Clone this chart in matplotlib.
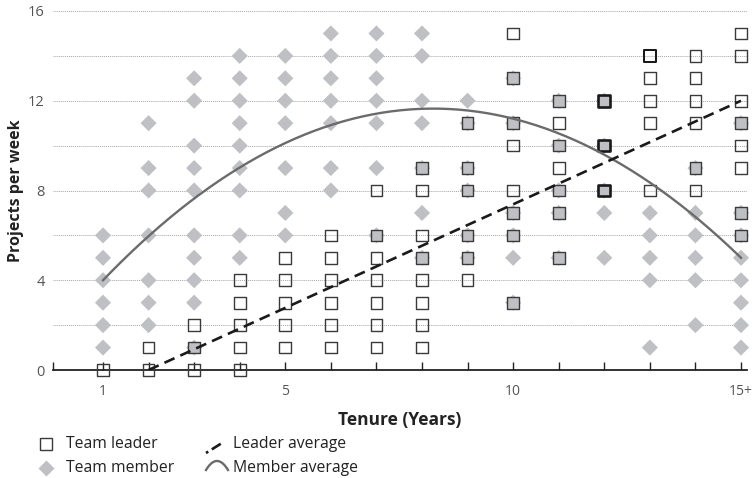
import matplotlib
matplotlib.use("Agg")
import matplotlib.pyplot as plt
from matplotlib.lines import Line2D
import numpy as np
from collections import Counter

plt.rcParams['font.family'] = ['Open Sans', 'DejaVu Sans']

# ---------------- data ----------------
# Team leaders: tenure (years) and projects per week (repeats = stacked leaders)
leader_tenure = ([1] + [2]*2 + [3]*3 + [4]*5 + [5]*5 + [6]*6 + [7]*7 + [8]*8 +
                 [9]*6 + [10]*8 + [11]*7 + [12]*9 + [13]*6 + [14]*6 + [15]*8)
leader_projects = ([0] +
                   [1, 0] +
                   [2, 1, 0] +
                   [4, 3, 2, 1, 0] +
                   [5, 4, 3, 2, 1] +
                   [6, 5, 4, 3, 2, 1] +
                   [8, 6, 5, 4, 3, 2, 1] +
                   [9, 8, 6, 5, 4, 3, 2, 1] +
                   [11, 9, 8, 6, 5, 4] +
                   [15, 13, 11, 10, 8, 7, 6, 3] +
                   [12, 11, 10, 9, 8, 7, 5] +
                   [12, 12, 12, 10, 10, 10, 8, 8, 8] +
                   [14, 14, 13, 12, 11, 8] +
                   [14, 13, 12, 11, 9, 8] +
                   [15, 14, 12, 11, 10, 9, 7, 6])

# Team members
member_tenure = ([1]*6 + [2]*7 + [3]*10 + [4]*9 + [5]*7 + [6]*7 + [7]*7 + [8]*7 +
                 [9]*6 + [10]*6 + [11]*5 + [12]*5 + [13]*5 + [14]*6 + [15]*8)
member_projects = ([6, 5, 4, 3, 2, 1] +
                   [11, 9, 8, 6, 4, 3, 2] +
                   [13, 12, 10, 9, 8, 6, 5, 4, 3, 1] +
                   [14, 13, 12, 11, 10, 9, 8, 6, 5] +
                   [14, 13, 12, 11, 9, 7, 6] +
                   [15, 14, 13, 12, 11, 9, 8] +
                   [15, 14, 13, 12, 11, 9, 6] +
                   [15, 14, 12, 11, 9, 7, 5] +
                   [12, 11, 9, 8, 6, 5] +
                   [13, 11, 7, 6, 5, 3] +
                   [12, 10, 8, 7, 5] +
                   [12, 10, 8, 7, 5] +
                   [7, 6, 5, 4, 1] +
                   [9, 7, 6, 5, 4, 2] +
                   [11, 7, 6, 5, 4, 3, 2, 1])

# Averages
leader_avg_tenure = [2, 15]
leader_avg_projects = [0, 12]
member_avg_tenure = [1, 8.25, 15]       # start, peak, end of the curve
member_avg_projects = [4, 11.65, 5]

x_tick_values = [1, 5, 10, 15]
x_tick_labels = ["1", "5", "10", "15+"]
y_tick_values = [0, 4, 8, 12, 16]
y_tick_labels = ["0", "4", "8", "12", "16"]

# ---------------- styling ----------------
W, H = 754, 478
DIAMOND = "#bfc0c4"
fig = plt.figure(figsize=(W/100, H/100), dpi=100)
ax = fig.add_axes([53/W, (H-370)/H, (747-53)/W, (370-11)/H])

ppu = (741-103)/14.0
ax.set_xlim(1 - (103-53)/ppu, 15 + (747-741)/ppu)
ax.set_ylim(0, 16)

# members (diamonds)
ax.scatter(member_tenure, member_projects, marker="D", s=8.2**2, c=DIAMOND,
           edgecolors="none", zorder=3, clip_on=False)

# leaders (squares); fill grey where a member sits underneath, heavier edge for repeats
member_set = set(zip(member_tenure, member_projects))
counts = Counter(zip(leader_tenure, leader_projects))
lx, ly, fc, ec, lw = [], [], [], [], []
for (t, p), n in counts.items():
    lx.append(t)
    ly.append(p)
    fc.append(DIAMOND if (t, p) in member_set else "none")
    ec.append("#3a3a3a" if n == 1 else "#1a1a1a")
    lw.append(1.0 + 0.45 * (n - 1))
ax.scatter(lx, ly, marker="s", s=8.4**2, facecolors=fc, edgecolors=ec,
           linewidths=lw, zorder=4, clip_on=False)

# averages
ax.plot(leader_avg_tenure, leader_avg_projects, color="#1a1a1a", lw=1.9,
        dashes=(4.2, 2.4), zorder=6, solid_capstyle="butt", dash_capstyle="butt")
coef = np.polyfit(member_avg_tenure, member_avg_projects, 2)
xs = np.linspace(member_avg_tenure[0], member_avg_tenure[-1], 200)
ax.plot(xs, np.polyval(coef, xs), color="#6b6b6b", lw=1.7, zorder=5)

# grid
for yv in range(2, 17, 2):
    ax.axhline(yv, color="#a5a5a5", lw=0.7, ls=(0, (1, 1)), zorder=1)

# spines
for s in ["left", "right", "top"]:
    ax.spines[s].set_visible(False)
ax.spines["bottom"].set_color("#222222")
ax.spines["bottom"].set_linewidth(1.3)
ax.spines["bottom"].set_zorder(2)

# x ticks: one mark per year, labels at some
xlim0 = ax.get_xlim()[0]
ticks = [xlim0] + list(range(1, 16))
labels = [""] * len(ticks)
for v, lab in zip(x_tick_values, x_tick_labels):
    labels[ticks.index(v)] = lab
ax.set_xticks(ticks)
ax.set_xticklabels(labels)
ax.tick_params(axis="x", direction="in", length=6, width=1.0, color="#222222",
               pad=10, labelsize=10, labelcolor="#555555")
ax.set_yticks(y_tick_values)
ax.set_yticklabels(y_tick_labels)
ax.tick_params(axis="y", length=0, pad=6, labelsize=10.5, labelcolor="#555555")

ax.set_xlabel("Tenure (Years)", fontsize=12.5, fontweight="bold", color="#222222",
              labelpad=9)
ax.set_ylabel("Projects per week", fontsize=11.5, fontweight="bold", color="#222222",
              labelpad=3)

# ---------------- legend (drawn by hand) ----------------
def fx(px):
    return px / W

def fy(py):
    return 1 - py / H

fig.add_artist(Line2D([fx(46)], [fy(444)], marker="s", markersize=8.4,
                      markerfacecolor="none", markeredgecolor="#3a3a3a",
                      markeredgewidth=1.0, transform=fig.transFigure))
fig.add_artist(Line2D([fx(46)], [fy(468)], marker="D", markersize=8.2,
                      markerfacecolor=DIAMOND, markeredgecolor="none",
                      transform=fig.transFigure))
fig.text(fx(66), fy(444), "Team leader", fontsize=11.3, color="#222222", va="center")
fig.text(fx(66), fy(468), "Team member", fontsize=11.3, color="#222222", va="center")

fig.add_artist(Line2D([fx(206), fx(222)], [fy(453), fy(443)], color="#1a1a1a",
                      lw=1.9, dashes=(1.0, 1.6, 4.0, 1.6), transform=fig.transFigure))
arc_px = np.linspace(206, 228, 30)
arc_py = 470 - 9 * (1 - ((arc_px - 217) / 11) ** 2)
fig.add_artist(Line2D(fx(arc_px), fy(arc_py), color="#6b6b6b", lw=1.7,
                      transform=fig.transFigure))
fig.text(fx(233), fy(444), "Leader average", fontsize=11.3, color="#222222", va="center")
fig.text(fx(233), fy(468), "Member average", fontsize=11.3, color="#222222", va="center")

fig.savefig("out.png", dpi=100)
